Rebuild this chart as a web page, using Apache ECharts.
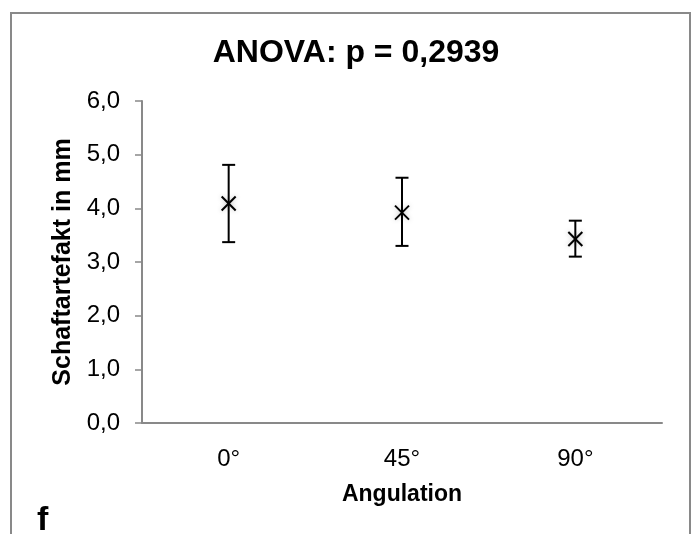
<!DOCTYPE html>
<html>
<head>
<meta charset="utf-8">
<script src="https://cdn.jsdelivr.net/npm/echarts@6/dist/echarts.min.js"></script>
<style>
  html, body { margin: 0; padding: 0; background: #fff; }
  #chart { width: 697px; height: 534px; }
</style>
</head>
<body>
<div id="chart"></div>
<script>
// categories and values
const categories = ['0°', '45°', '90°'];
const means = [4.09, 3.92, 3.43];
const lower = [3.37, 3.30, 3.10];
const upper = [4.81, 4.57, 3.77];
const yTicks = [0, 1, 2, 3, 4, 5, 6];

const font = 'Liberation Sans, Arial, sans-serif';
const axisGray = '#898989';

function drawPoint(params, api) {
    let i = api.value(0);
    let mid = api.coord([i, api.value(1)]);
    let lo = api.coord([i, api.value(2)]);
    let hi = api.coord([i, api.value(3)]);
    let cap = 6.5;
    let m = 7;
    let style = { stroke: '#000', lineWidth: 2 };
    let xStyle = { stroke: '#000', lineWidth: 2, shadowBlur: 5, shadowColor: 'rgba(0,0,0,0.25)' };
    return {
        type: 'group',
        children: [
            { type: 'line', shape: { x1: lo[0], y1: lo[1], x2: hi[0], y2: hi[1] }, style: style },
            { type: 'line', shape: { x1: lo[0] - cap, y1: lo[1], x2: lo[0] + cap, y2: lo[1] }, style: style },
            { type: 'line', shape: { x1: hi[0] - cap, y1: hi[1], x2: hi[0] + cap, y2: hi[1] }, style: style },
            { type: 'line', shape: { x1: mid[0] - m, y1: mid[1] - m, x2: mid[0] + m, y2: mid[1] + m }, style: xStyle },
            { type: 'line', shape: { x1: mid[0] - m, y1: mid[1] + m, x2: mid[0] + m, y2: mid[1] - m }, style: xStyle }
        ]
    };
}

let chart = echarts.init(document.getElementById('chart'), null, { renderer: 'canvas' });
let data = categories.map((c, i) => [i, means[i], lower[i], upper[i]]);

let option = {
    animation: false,
    backgroundColor: '#fff',
    title: {
        text: 'ANOVA: p = 0,2939',
        left: 351,
        top: 32,
        textAlign: 'center',
        textStyle: { fontFamily: font, fontSize: 32, fontWeight: 'bold', color: '#000' }
    },
    graphic: [
        {
            type: 'rect',
            shape: { x: 11, y: 13, width: 679, height: 540 },
            style: { fill: 'none', stroke: axisGray, lineWidth: 2 },
            silent: true
        },
        {
            type: 'text',
            left: 37,
            top: 504,
            style: { text: 'f', fontFamily: font, fontSize: 34, fontWeight: 'bold', fill: '#000' }
        }
    ],
    grid: { left: 142, right: 35, top: 101, bottom: 111 },
    xAxis: {
        type: 'category',
        data: categories,
        name: 'Angulation',
        nameLocation: 'middle',
        nameGap: 60,
        nameTextStyle: { fontFamily: font, fontSize: 23, fontWeight: 'bold', color: '#000' },
        axisLine: { lineStyle: { color: axisGray, width: 2 } },
        axisTick: { length: 7, lineStyle: { color: axisGray, width: 1.5 } },
        axisLabel: { fontFamily: font, fontSize: 24, color: '#000', margin: 24 },
        splitLine: { show: false }
    },
    yAxis: {
        type: 'value',
        min: yTicks[0],
        max: yTicks[yTicks.length - 1],
        interval: 1,
        name: 'Schaftartefakt in mm',
        nameLocation: 'middle',
        nameGap: 66,
        nameTextStyle: { fontFamily: font, fontSize: 25, fontWeight: 'bold', color: '#000' },
        axisLine: { show: true, lineStyle: { color: axisGray, width: 2 } },
        axisTick: { show: true, length: 7, lineStyle: { color: axisGray, width: 1.5 } },
        axisLabel: {
            fontFamily: font, fontSize: 24, color: '#000', margin: 22,
            formatter: v => v.toFixed(1).replace('.', ',')
        },
        splitLine: { show: false }
    },
    series: [
        {
            type: 'custom',
            renderItem: drawPoint,
            encode: { x: 0, y: [1, 2, 3] },
            data: data
        }
    ]
};
chart.setOption(option);
window.addEventListener('resize', function () {
    chart.resize();
});
</script>
</body>
</html>
